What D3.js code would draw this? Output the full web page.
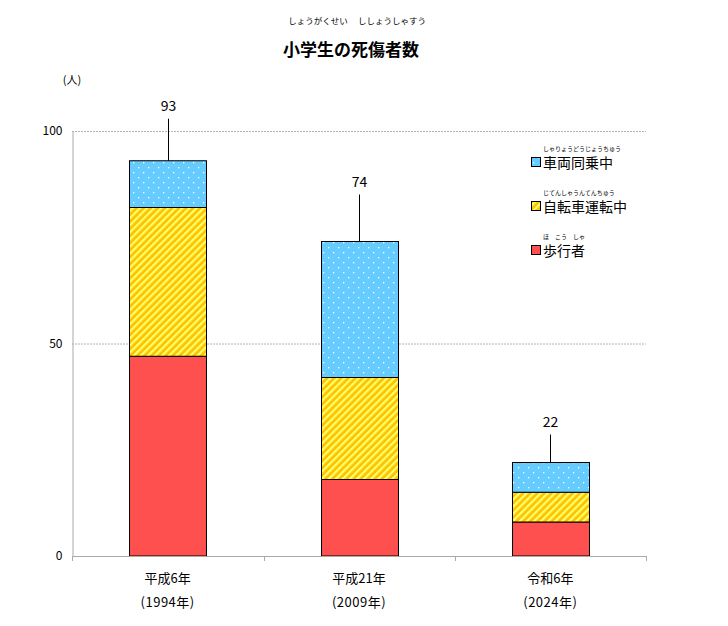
<!DOCTYPE html>
<html><head><meta charset="utf-8">
<script src="https://cdn.jsdelivr.net/npm/d3@7"></script>
<style>
body{margin:0;background:#fff;}
text{font-family:"Noto Sans CJK JP","Noto Sans",sans-serif;fill:#000;}
</style></head>
<body>
<svg id="chart" width="728" height="626"></svg>
<script>
const categories = ["平成6年", "平成21年", "令和6年"];
const yearLabels = ["(1994年)", "(2009年)", "(2024年)"];
const pedestrian = [47, 18, 8];
const bicycle = [35, 24, 7];
const passenger = [11, 32, 7];
const totals = [93, 74, 22];
const seriesNames = ["車両同乗中", "自転車運転中", "歩行者"];
const seriesRuby = ["しゃりょうどうじょうちゅう", "じてんしゃうんてんちゅう", "ほ　こう　しゃ"];
const yTicks = [0, 50, 100];

const svg = d3.select("#chart");
const defs = svg.append("defs");
// dotted blue
const pd = defs.append("pattern").attr("id","dots").attr("patternUnits","userSpaceOnUse")
  .attr("width",10).attr("height",10).attr("x",133).attr("y",2);
pd.append("rect").attr("width",10).attr("height",10).attr("fill","#66CCFF");
pd.append("rect").attr("x",0).attr("y",0).attr("width",1.3).attr("height",1.3).attr("fill","#fff");
pd.append("rect").attr("x",5).attr("y",5).attr("width",1.3).attr("height",1.3).attr("fill","#fff");
// stripes
const ps = defs.append("pattern").attr("id","stripes").attr("patternUnits","userSpaceOnUse")
  .attr("width",5).attr("height",5).attr("patternTransform","rotate(45)");
ps.append("rect").attr("width",5).attr("height",5).attr("fill","#FFC000");
ps.append("rect").attr("x",0).attr("width",2.3).attr("height",5).attr("fill","#FFFF66");

const x = d3.scaleBand().domain(categories).range([72, 646]).paddingInner(0.6).paddingOuter(0.3);
const y = d3.scaleLinear().domain([0, 100]).range([556, 131]);

// gridlines
svg.append("g").selectAll("line").data(yTicks.filter(d=>d>0)).join("line")
  .attr("x1",72).attr("x2",646).attr("y1",d=>y(d)+0.5).attr("y2",d=>y(d)+0.5)
  .attr("stroke","#b4b4b4").attr("stroke-width",1).attr("stroke-dasharray","2,1");

// y axis
const yAxis = svg.append("g").attr("transform","translate(72.5,0)")
  .call(d3.axisLeft(y).tickValues(yTicks).tickSize(0).tickPadding(10));
yAxis.select(".domain").attr("stroke","#aaa");
yAxis.selectAll("text").attr("font-size",12).attr("fill","#000");

// stacked data
const rows = categories.map((c,i)=>({cat:c, ped:pedestrian[i], bike:bicycle[i], pass:passenger[i]}));
const stack = d3.stack().keys(["ped","bike","pass"])(rows);
const fills = {ped:"#FF5050", bike:"url(#stripes)", pass:"url(#dots)"};
const bw = 77;
svg.append("g").selectAll("g").data(stack).join("g")
  .attr("fill", d=>fills[d.key])
  .selectAll("rect").data(d=>d).join("rect")
  .attr("x", d=>Math.round(x(d.data.cat)+x.bandwidth()/2-bw/2)+0.5)
  .attr("y", d=>y(d[1]))
  .attr("width", bw)
  .attr("height", d=>y(d[0])-y(d[1]))
  .attr("stroke","#000").attr("stroke-width",1);

// x axis
svg.append("line").attr("x1",72).attr("x2",646).attr("y1",556.5).attr("y2",556.5).attr("stroke","#aaa");
const bounds = [72, 264, 455, 646];
svg.append("g").selectAll("line").data(bounds).join("line")
  .attr("x1",d=>d+0.5).attr("x2",d=>d+0.5).attr("y1",556).attr("y2",561).attr("stroke","#aaa");

// category labels
categories.forEach((c,i)=>{
  const cx = x(c)+x.bandwidth()/2;
  svg.append("text").attr("x",cx).attr("y",583).attr("text-anchor","middle").attr("font-size",13).text(c);
  svg.append("text").attr("x",cx).attr("y",607).attr("text-anchor","middle").attr("font-size",13)
    .attr("letter-spacing",0.5).text(yearLabels[i]);
});

// total labels with leader lines
const lift = [42, 47, 28];
totals.forEach((t,i)=>{
  const cx = Math.round(x(categories[i])+x.bandwidth()/2)+0.5;
  const top = y(t);
  svg.append("line").attr("x1",cx).attr("x2",cx).attr("y1",top).attr("y2",top-lift[i]).attr("stroke","#000");
  svg.append("text").attr("x",cx).attr("y",top-lift[i]-8).attr("text-anchor","middle").attr("font-size",14).text(t);
});

// unit
svg.append("text").attr("x",72).attr("y",84).attr("text-anchor","middle").attr("font-size",11).text("(人)");

// title
svg.append("text").attr("x",351).attr("y",56).attr("text-anchor","middle").attr("font-size",17).attr("font-weight","bold").text("小学生の死傷者数");
svg.append("text").attr("x",318).attr("y",24).attr("text-anchor","middle").attr("font-size",8.5).text("しょうがくせい");
svg.append("text").attr("x",392).attr("y",24).attr("text-anchor","middle").attr("font-size",8.5).text("ししょうしゃすう");

// legend
const legFills = ["url(#dots)", "url(#stripes)", "#FF5050"];
seriesNames.forEach((n,i)=>{
  const by = 168 + i*44;
  svg.append("rect").attr("x",531.5).attr("y",by-10.5).attr("width",9).attr("height",9)
    .attr("fill",legFills[i]).attr("stroke","#000");
  svg.append("text").attr("x",543).attr("y",by).attr("font-size",14).text(n);
  svg.append("text").attr("x",543).attr("y",by-17).attr("font-size",6).text(seriesRuby[i]);
});
</script>
</body></html>
